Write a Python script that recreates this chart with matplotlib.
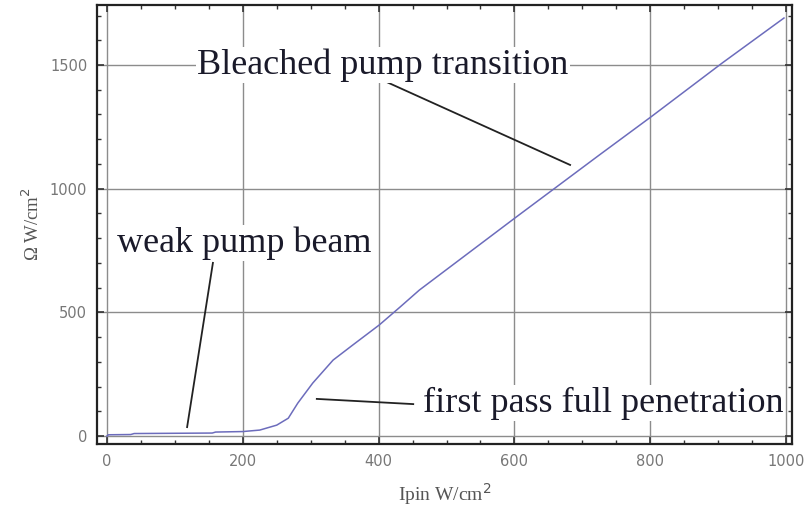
import matplotlib
matplotlib.use("Agg")
import matplotlib.pyplot as plt
from matplotlib.ticker import MultipleLocator

# Data
ipin = [0, 2, 35, 40, 155, 160, 200, 225, 250, 267, 281, 303, 333, 362, 401, 431, 460, 603, 725, 801, 906, 997]
omega = [0, 5, 6, 10, 12, 16, 18, 24, 44, 72, 133, 214, 307, 368, 449, 520, 590, 886, 1136, 1290, 1508, 1690]

xticks = [0, 200, 400, 600, 800, 1000]
yticks = [0, 500, 1000, 1500]

fig = plt.figure(figsize=(8.06, 5.16), dpi=100)
ax = fig.add_axes([97/806, 1 - 444/516, 695/806, 439/516])

ax.plot(ipin, omega, color="#6c6cbc", lw=1.1, zorder=3)

ax.set_xlim(-14.7, 1008.8)
ax.set_ylim(-32.3, 1742.6)
ax.set_xticks(xticks)
ax.set_yticks(yticks)
ax.xaxis.set_minor_locator(MultipleLocator(50))
ax.yaxis.set_minor_locator(MultipleLocator(100))
ax.grid(True, which="major", color="#8c8c8c", lw=1.0, zorder=1)
ax.tick_params(which="both", direction="in", top=True, right=True, colors="#333333",
               labelcolor="#777777", labelsize=10.5)
ax.tick_params(which="major", length=5, width=1.2, pad=7)
ax.tick_params(which="minor", length=3, width=1.0)
for s in ax.spines.values():
    s.set_linewidth(1.6)
    s.set_color("#222222")

ax.set_xlabel("Ipin W/cm$^2$", family="Liberation Serif", fontsize=14, color="#555555", labelpad=9)
ax.set_ylabel("Ω W/cm$^2$", family="Liberation Serif", fontsize=13.5, color="#555555", labelpad=5)

bbox = dict(facecolor="white", edgecolor="none", pad=1)
tfont = dict(family="Liberation Serif", fontsize=26, color="#1a1a2a", zorder=5)

ax.text(406, 1500, "Bleached pump transition", ha="center", va="center", bbox=bbox, **tfont)
ax.plot([412, 682], [1431, 1096], color="#222222", lw=1.3, zorder=4)

ax.text(202, 780, "weak pump beam", ha="center", va="center", bbox=bbox, **tfont)
ax.plot([156, 118], [700, 36], color="#222222", lw=1.3, zorder=4)

ax.text(465, 133, "first pass full penetration", ha="left", va="center", bbox=bbox, **tfont)
ax.plot([309, 451], [150, 129], color="#222222", lw=1.3, zorder=4)

fig.savefig("out.png", dpi=100)
